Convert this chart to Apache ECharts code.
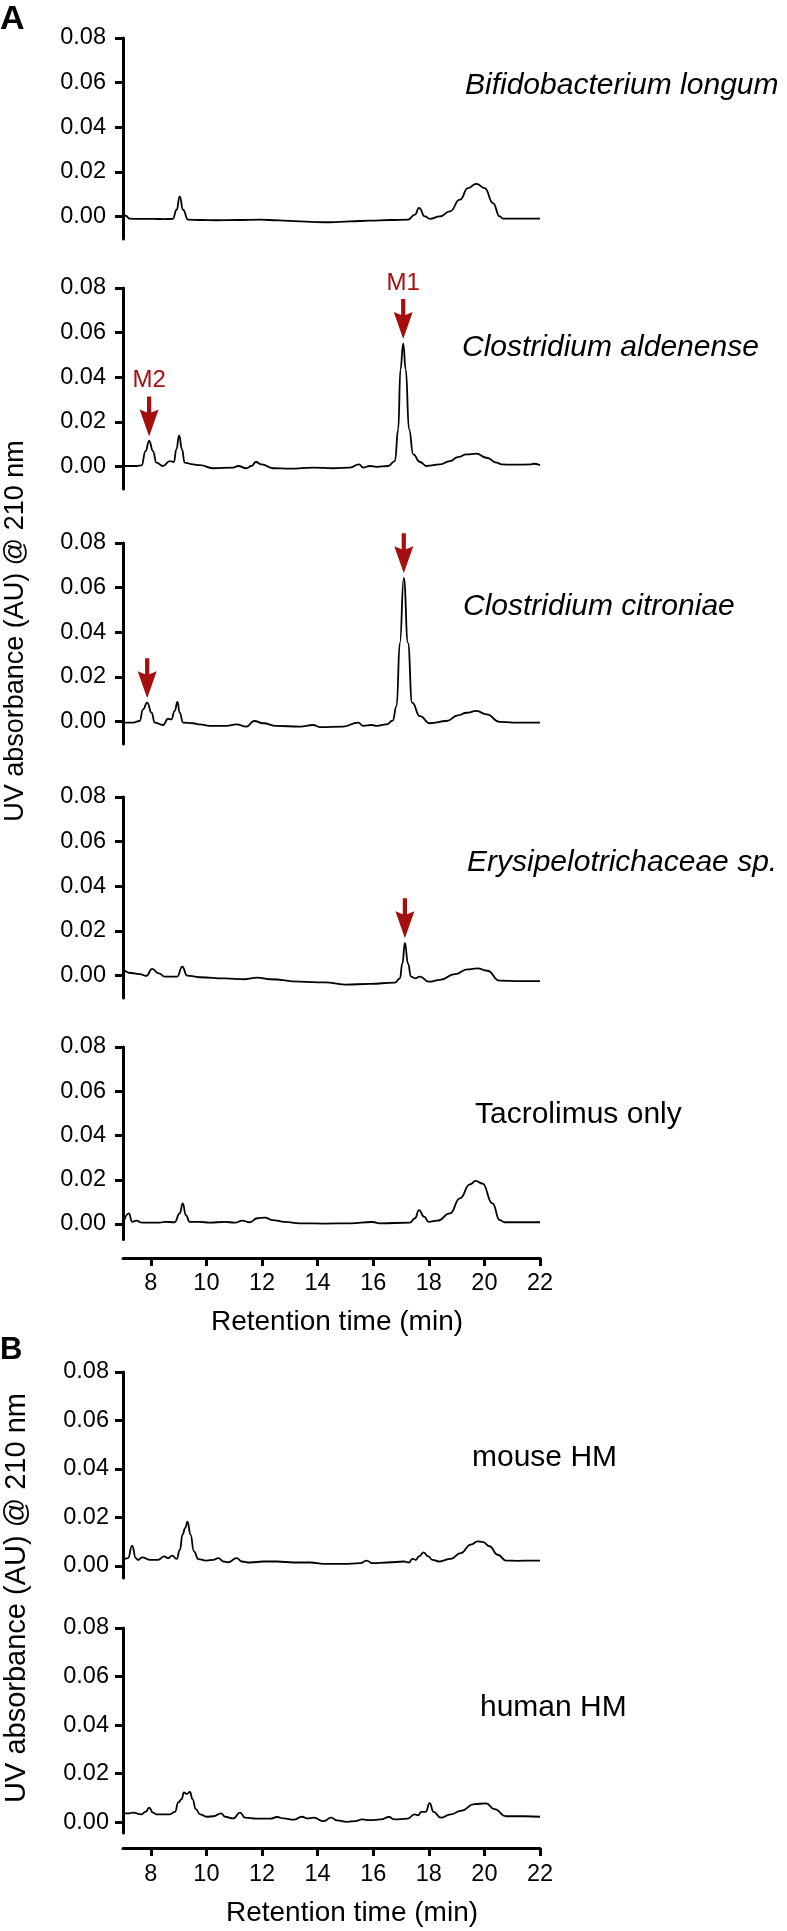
<!DOCTYPE html>
<html>
<head>
<meta charset="utf-8">
<script src="https://cdn.jsdelivr.net/npm/echarts@6/dist/echarts.min.js"></script>
<style>
html, body { margin: 0; padding: 0; background: #fff; }
#chart { width: 787px; height: 1931px; }
</style>
</head>
<body>
<div id="chart"></div>
<script>
// retention time (min), absorbance (AU)
var bLongum = [[7.0,0.0009],[7.1,0.0004],[7.24,-0.0009],[7.6,-0.001],[8.07,-0.001],[8.5,-0.0011],[8.79,-0.001],[8.93,0.0031],[9.04,0.0091],[9.16,0.0031],[9.34,-0.0013],[9.8,-0.0015],[10.36,-0.0016],[11.1,-0.0015],[11.92,-0.0013],[12.6,-0.0017],[13.36,-0.0021],[14.2,-0.0025],[14.44,-0.0025],[15.16,-0.0021],[15.88,-0.0018],[16.6,-0.0015],[17.26,-0.0013],[17.5,0.0009],[17.65,0.0039],[17.86,0.0001],[18.04,-0.001],[18.4,0.0001],[18.76,0.0024],[19.12,0.0076],[19.41,0.0128],[19.71,0.0147],[20.01,0.0128],[20.31,0.0061],[20.55,0.0001],[20.67,-0.0009],[21.39,-0.0009],[22.0,-0.0009]];

var cAldenense = [[7.0,0.0003],[7.49,0.0003],[7.67,0.0006],[7.81,0.007],[7.94,0.0115],[8.08,0.007],[8.2,0.0018],[8.44,0.0003],[8.68,0.0025],[8.83,0.0021],[8.92,0.0077],[9.02,0.014],[9.12,0.0077],[9.22,0.0018],[9.52,0.001],[9.76,0.0007],[10.24,-0.0007],[10.96,-0.0004],[11.14,0.0003],[11.44,-0.0007],[11.62,0.0003],[11.78,0.0021],[11.98,0.001],[12.4,-0.0007],[13.0,-0.0009],[13.84,-0.0004],[14.56,-0.0007],[15.16,-0.0004],[15.49,0.001],[15.64,-0.0004],[15.88,0.0003],[16.12,-0.0001],[16.54,0.0003],[16.78,0.0025],[16.9,0.0167],[16.98,0.0435],[17.08,0.0551],[17.17,0.0435],[17.29,0.0167],[17.44,0.0055],[17.68,0.0021],[17.92,0.0003],[18.4,0.001],[18.76,0.0025],[19.05,0.0043],[19.36,0.0055],[19.71,0.0058],[20.08,0.004],[20.44,0.0018],[20.62,0.001],[21.03,0.0009],[21.69,0.001],[21.75,0.0013],[22.0,0.0007]];

var cCitroniae = [[7.0,-0.0004],[7.36,-0.0004],[7.6,0.0003],[7.72,0.0055],[7.87,0.0085],[8.03,0.004],[8.14,-0.0004],[8.44,-0.0015],[8.62,0.0013],[8.74,0.001],[8.86,0.0048],[8.96,0.0088],[9.04,0.004],[9.16,-0.0004],[9.52,-0.0007],[9.76,-0.0012],[10.12,-0.0019],[10.72,-0.0019],[11.08,-0.0012],[11.44,-0.0022],[11.72,0.0003],[12.04,-0.0007],[12.52,-0.0019],[13.36,-0.0022],[13.84,-0.0015],[14.08,-0.0024],[14.92,-0.0022],[15.46,-0.0004],[15.64,-0.0019],[15.94,-0.0015],[16.12,-0.0019],[16.48,-0.0012],[16.7,0.0005],[16.84,0.007],[16.96,0.0353],[17.1,0.0644],[17.25,0.0353],[17.4,0.0085],[17.68,0.0025],[18.04,-0.0007],[18.64,0.0003],[19.05,0.0028],[19.36,0.004],[19.71,0.0048],[20.08,0.0033],[20.55,-0.0001],[21.03,-0.0004],[22.0,-0.0004]];

var erysipelo = [[7.0,0.0015],[7.06,0.0021],[7.21,0.0013],[7.6,0.0007],[7.84,-0.0001],[8.05,0.003],[8.29,0.001],[8.5,-0.0004],[8.95,-0.0004],[9.13,0.004],[9.31,0.0],[9.76,-0.0007],[10.66,-0.0012],[11.38,-0.0016],[11.83,-0.0009],[12.28,-0.0016],[13.36,-0.0027],[14.26,-0.003],[14.98,-0.004],[15.88,-0.0037],[16.78,-0.0031],[16.96,-0.0012],[17.05,0.0055],[17.14,0.0147],[17.25,0.0055],[17.36,-0.0004],[17.5,-0.0012],[17.68,-0.0004],[18.0,-0.0027],[18.4,-0.0019],[18.94,0.0007],[19.39,0.0028],[19.75,0.0033],[20.1,0.0022],[20.55,-0.0022],[21.27,-0.0024],[22.0,-0.0024]];

var tacrolimus = [[7.01,0.0003],[7.21,0.0048],[7.33,0.001],[7.48,0.0015],[7.69,0.0006],[8.32,0.0006],[8.5,0.001],[8.86,0.0008],[9.04,0.0048],[9.15,0.0093],[9.26,0.004],[9.4,0.001],[9.76,0.001],[10.12,0.0006],[10.66,0.001],[11.02,0.0006],[11.29,0.0015],[11.56,0.0008],[11.83,0.0026],[12.1,0.0029],[12.37,0.0018],[12.82,0.001],[13.36,0.0003],[14.26,0.0002],[15.16,0.0003],[15.97,0.0009],[16.24,0.0003],[17.32,0.0006],[17.5,0.0026],[17.65,0.0063],[17.83,0.0033],[18.0,0.001],[18.31,0.0015],[18.76,0.0048],[19.12,0.0116],[19.48,0.0179],[19.69,0.0195],[19.93,0.0183],[20.29,0.0093],[20.55,0.0018],[20.73,0.0008],[22.0,0.0008]];

var mouseHM = [[7.0,0.0025],[7.18,0.0032],[7.33,0.0083],[7.46,0.0032],[7.54,0.0025],[7.69,0.0035],[7.96,0.0025],[8.26,0.0025],[8.48,0.0039],[8.62,0.0032],[8.77,0.0042],[8.93,0.0029],[9.05,0.0067],[9.14,0.0129],[9.24,0.0157],[9.32,0.0182],[9.43,0.0129],[9.55,0.006],[9.71,0.0028],[10.0,0.0022],[10.25,0.0025],[10.43,0.0032],[10.61,0.0018],[10.79,0.0015],[11.09,0.0032],[11.27,0.0018],[11.57,0.0014],[12.05,0.0018],[12.54,0.0018],[13.14,0.0014],[13.74,0.0014],[14.22,0.0008],[14.94,0.0008],[15.54,0.0011],[15.76,0.0022],[15.97,0.0011],[16.51,0.0014],[17.11,0.0018],[17.29,0.0014],[17.41,0.0029],[17.53,0.0025],[17.65,0.0039],[17.81,0.0056],[17.98,0.0039],[18.13,0.0025],[18.37,0.0018],[18.79,0.0029],[19.15,0.0053],[19.51,0.0088],[19.76,0.0101],[19.94,0.0099],[20.18,0.0081],[20.48,0.0046],[20.78,0.0022],[21.2,0.0021],[21.68,0.0022],[22.0,0.0022]];

var humanHM = [[7.0,0.0036],[7.22,0.0036],[7.36,0.0039],[7.66,0.0032],[7.82,0.0043],[7.94,0.006],[8.08,0.0039],[8.2,0.0032],[8.68,0.0032],[8.87,0.0042],[8.99,0.0081],[9.11,0.0095],[9.19,0.0122],[9.29,0.0116],[9.41,0.0124],[9.5,0.0095],[9.62,0.0053],[9.77,0.0032],[10.01,0.0022],[10.25,0.0024],[10.53,0.0036],[10.67,0.0022],[10.97,0.0015],[11.21,0.0039],[11.39,0.0018],[11.81,0.0014],[12.3,0.0014],[12.54,0.0021],[12.78,0.0015],[13.14,0.001],[13.44,0.0022],[13.62,0.0015],[13.86,0.0018],[14.22,0.0004],[14.49,0.0018],[14.7,0.0007],[15.06,0.0001],[15.36,0.0004],[15.6,0.0011],[15.9,0.0008],[16.27,0.0011],[16.57,0.0021],[16.75,0.0011],[17.23,0.0014],[17.49,0.0032],[17.61,0.0028],[17.73,0.0042],[17.89,0.0042],[18.03,0.0078],[18.17,0.0042],[18.43,0.0018],[18.79,0.0032],[19.15,0.0046],[19.63,0.0074],[20.06,0.0077],[20.36,0.0053],[20.78,0.0024],[21.44,0.0024],[22.0,0.0022]];

var traces = [bLongum, cAldenense, cCitroniae, erysipelo, tacrolimus, mouseHM, humanHM];
var sampleNames = ['Bifidobacterium longum', 'Clostridium aldenense', 'Clostridium citroniae', 'Erysipelotrichaceae sp.', 'Tacrolimus only', 'mouse HM', 'human HM'];
var xTicks = [8, 10, 12, 14, 16, 18, 20, 22];
var yTicks = [0, 0.02, 0.04, 0.06, 0.08];
var yTitle = 'UV absorbance (AU) @ 210 nm';
var xTitle = 'Retention time (min)';
// arrows: panel, retention time of the marked peak, label
var arrowPeaks = [[1, 17.08, 'M1'], [1, 7.94, 'M2'], [2, 17.1, ''], [2, 7.87, ''], [3, 17.14, '']];

// layout of the seven stacked panels
var boxes = [
    {top: 38, height: 201, yMin: -0.01},
    {top: 288, height: 201, yMin: -0.01},
    {top: 543, height: 201, yMin: -0.01},
    {top: 797, height: 201, yMin: -0.01},
    {top: 1047, height: 192.5, yMin: -0.007, xAxis: true, xOffset: 18.5, labelMargin: 14},
    {top: 1372, height: 206, yMin: -0.005},
    {top: 1628, height: 205, yMin: -0.0045, xAxis: true, xOffset: 15, labelMargin: 15}
];
var namePos = [[465, 86], [462, 348], [463, 607], [467, 863], [475, 1115], [472, 1458], [480, 1708]];

var FONT = '"Liberation Sans", Arial, Helvetica, sans-serif';
var RED = '#a50e0e';
var arrowPath = 'path://M7,0L11,0L11,16L18,13L9,40L0,13L7,16Z';

function peakNear(data, t) {
    var best = data[0];
    for (var i = 1; i < data.length; i++) {
        if (Math.abs(data[i][0] - t) < Math.abs(best[0] - t)) best = data[i];
    }
    return best;
}

var chart = echarts.init(document.getElementById('chart'), null, {renderer: 'canvas'});

var grids = [], xAxes = [], yAxes = [], series = [];

boxes.forEach(function (b, i) {
    grids.push({left: 123, width: 417, top: b.top, height: b.height, outerBoundsMode: 'none', containLabel: false});

    xAxes.push({
        gridIndex: i,
        type: 'value',
        min: 7,
        max: 22,
        show: !!b.xAxis,
        offset: b.xOffset || 0,
        axisLine: {show: true, onZero: false, lineStyle: {color: '#000', width: 3}},
        axisTick: {show: true, length: 8, lineStyle: {color: '#000', width: 3}, customValues: xTicks},
        axisLabel: {customValues: xTicks, margin: b.labelMargin || 14, color: '#000', fontSize: 23.5, fontFamily: FONT},
        splitLine: {show: false}
    });

    yAxes.push({
        gridIndex: i,
        type: 'value',
        min: b.yMin,
        max: 0.08,
        axisLine: {show: true, onZero: false, lineStyle: {color: '#000', width: 3}},
        axisTick: {show: true, length: 8, lineStyle: {color: '#000', width: 3}, customValues: yTicks},
        axisLabel: {
            customValues: yTicks,
            margin: i >= 5 ? 14 : 17,
            color: '#000',
            fontSize: 23.5,
            fontFamily: FONT,
            formatter: function (v) { return v.toFixed(2); }
        },
        splitLine: {show: false}
    });

    var marks = arrowPeaks.filter(function (a) { return a[0] === i; }).map(function (a) {
        return {
            coord: peakNear(traces[i], a[1]),
            symbol: arrowPath,
            symbolSize: [19, 40],
            symbolOffset: [0, -24.5],
            itemStyle: {color: RED},
            label: {
                show: a[2] !== '',
                formatter: a[2],
                position: 'top',
                distance: 4,
                color: RED,
                fontSize: 24,
                fontFamily: FONT
            }
        };
    });

    series.push({
        type: 'line',
        xAxisIndex: i,
        yAxisIndex: i,
        data: traces[i],
        showSymbol: false,
        smooth: 0.5,
        smoothMonotone: 'x',
        silent: true,
        lineStyle: {color: '#000', width: 1.8},
        itemStyle: {color: '#000'},
        markPoint: marks.length ? {silent: true, animation: false, data: marks} : undefined
    });
});

var graphics = [
    {type: 'text', x: 0, y: 20, style: {text: 'A', fontSize: 34, fontWeight: 'bold', fontFamily: FONT, fill: '#000', verticalAlign: 'middle'}},
    {type: 'text', x: 0, y: 1350, style: {text: 'B', fontSize: 31, fontWeight: 'bold', fontFamily: FONT, fill: '#000', verticalAlign: 'middle'}},
    {type: 'text', x: 16, y: 631, rotation: Math.PI / 2, style: {text: yTitle, fontSize: 27, fontFamily: FONT, fill: '#000', align: 'center', verticalAlign: 'middle'}},
    {type: 'text', x: 17, y: 1598, rotation: Math.PI / 2, style: {text: yTitle, fontSize: 29, fontFamily: FONT, fill: '#000', align: 'center', verticalAlign: 'middle'}},
    {type: 'text', x: 337, y: 1322, style: {text: xTitle, fontSize: 28, fontFamily: FONT, fill: '#000', align: 'center', verticalAlign: 'middle'}},
    {type: 'text', x: 352, y: 1913, style: {text: xTitle, fontSize: 28, fontFamily: FONT, fill: '#000', align: 'center', verticalAlign: 'middle'}}
];

sampleNames.forEach(function (name, i) {
    graphics.push({
        type: 'text',
        x: namePos[i][0],
        y: namePos[i][1],
        style: {
            text: name,
            fontSize: 30,
            fontStyle: i < 4 ? 'italic' : 'normal',
            fontFamily: FONT,
            fill: '#000',
            verticalAlign: 'middle'
        }
    });
});

chart.setOption({
    backgroundColor: '#fff',
    animation: false,
    grid: grids,
    xAxis: xAxes,
    yAxis: yAxes,
    series: series,
    graphic: graphics
});
</script>
</body>
</html>
